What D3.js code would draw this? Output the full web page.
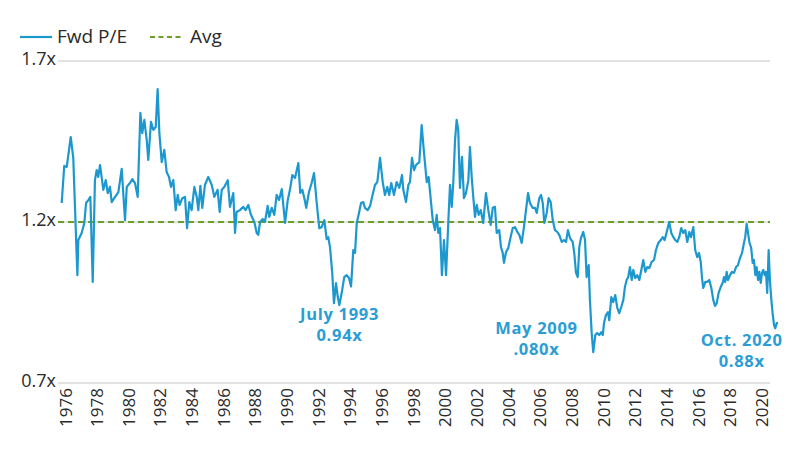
<!DOCTYPE html>
<html>
<head>
<meta charset="utf-8">
<script src="https://cdn.jsdelivr.net/npm/d3@7"></script>
<style>
  body { margin: 0; background: #fff; }
  svg text { font-family: "Open Sans", sans-serif; }
</style>
</head>
<body>
<svg id="chart"></svg>
<script>
// forward P/E (decimal year, ratio)
var dates = [1975.76,1975.92,1976.08,1976.33,1976.49,1976.75,1976.81,1977.02,1977.19,1977.30,1977.44,1977.57,1977.72,1977.86,1977.97,
  1978.07,1978.18,1978.39,1978.54,1978.67,1978.81,1978.92,1979.08,1979.34,1979.55,1979.76,1979.87,1980.07,1980.22,1980.39,1980.56,
  1980.73,1980.85,1980.98,1981.13,1981.23,1981.40,1981.55,1981.70,1981.82,1981.93,1982.08,1982.24,1982.39,1982.54,1982.66,1982.81,
  1982.96,1983.09,1983.21,1983.38,1983.55,1983.68,1983.82,1983.97,1984.14,1984.29,1984.39,1984.52,1984.64,1984.81,1985.02,1985.24,
  1985.40,1985.61,1985.74,1985.87,1986.03,1986.25,1986.39,1986.60,1986.71,1986.81,1987.02,1987.23,1987.38,1987.55,1987.72,1987.93,
  1988.08,1988.18,1988.29,1988.46,1988.60,1988.77,1988.87,1989.03,1989.19,1989.34,1989.49,1989.66,1989.87,1990.04,1990.18,1990.33,
  1990.50,1990.71,1990.83,1990.96,1991.09,1991.21,1991.38,1991.55,1991.70,1991.87,1992.03,1992.18,1992.35,1992.50,1992.60,1992.71,
  1992.85,1992.96,1993.09,1993.20,1993.30,1993.45,1993.61,1993.76,1993.91,1994.04,1994.18,1994.29,1994.40,1994.54,1994.67,1994.81,
  1994.92,1995.09,1995.24,1995.38,1995.55,1995.70,1995.87,1996.04,1996.18,1996.33,1996.45,1996.58,1996.75,1996.92,1997.09,1997.26,
  1997.34,1997.51,1997.66,1997.76,1997.89,1998.02,1998.14,1998.35,1998.50,1998.65,1998.82,1998.94,1999.09,1999.20,1999.34,1999.45,
  1999.55,1999.66,1999.78,1999.91,2000.04,2000.18,2000.29,2000.40,2000.50,2000.61,2000.71,2000.81,2000.92,2001.05,2001.17,2001.30,
  2001.45,2001.55,2001.66,2001.76,2001.87,2001.98,2002.10,2002.23,2002.39,2002.56,2002.71,2002.86,2002.99,2003.13,2003.24,2003.40,
  2003.51,2003.62,2003.70,2003.83,2003.97,2004.08,2004.25,2004.40,2004.54,2004.67,2004.82,2004.96,2005.09,2005.22,2005.34,2005.51,
  2005.66,2005.77,2005.93,2006.04,2006.15,2006.25,2006.40,2006.52,2006.65,2006.78,2006.92,2007.07,2007.19,2007.35,2007.49,2007.62,
  2007.74,2007.87,2008.04,2008.14,2008.25,2008.36,2008.46,2008.56,2008.71,2008.82,2008.92,2009.05,2009.13,2009.24,2009.34,2009.47,
  2009.59,2009.72,2009.85,2009.94,2010.02,2010.14,2010.27,2010.35,2010.48,2010.60,2010.73,2010.86,2010.98,2011.11,2011.24,2011.34,
  2011.45,2011.55,2011.66,2011.77,2011.87,2011.99,2012.12,2012.25,2012.40,2012.50,2012.63,2012.75,2012.88,2013.03,2013.18,2013.30,
  2013.45,2013.60,2013.73,2013.85,2013.98,2014.14,2014.27,2014.40,2014.52,2014.65,2014.77,2014.90,2015.03,2015.15,2015.28,2015.41,
  2015.51,2015.66,2015.78,2015.91,2016.02,2016.13,2016.21,2016.29,2016.42,2016.54,2016.67,2016.80,2016.92,2017.03,2017.14,2017.26,
  2017.39,2017.52,2017.60,2017.68,2017.77,2017.85,2017.98,2018.10,2018.23,2018.36,2018.48,2018.61,2018.74,2018.86,2018.94,2019.03,
  2019.11,2019.20,2019.32,2019.41,2019.49,2019.58,2019.66,2019.75,2019.83,2019.92,2020.00,2020.08,2020.17,2020.25,2020.33,2020.42,
  2020.50,2020.59,2020.67,2020.76,2020.84,2020.93,2021.01];

var fwdPE = [1.259,1.374,1.371,1.464,1.400,1.035,1.144,1.166,1.197,1.259,1.268,1.278,1.014,1.330,1.361,
  1.340,1.377,1.300,1.330,1.290,1.309,1.262,1.274,1.293,1.365,1.206,1.309,1.321,1.333,1.321,1.278,
  1.539,1.476,1.517,1.455,1.393,1.511,1.486,1.495,1.613,1.476,1.386,1.424,1.355,1.340,1.309,1.330,
  1.237,1.284,1.253,1.274,1.278,1.181,1.262,1.237,1.309,1.278,1.237,1.312,1.244,1.315,1.340,1.315,
  1.278,1.300,1.231,1.300,1.309,1.330,1.247,1.290,1.166,1.231,1.237,1.247,1.237,1.253,1.222,1.200,
  1.166,1.160,1.200,1.209,1.200,1.250,1.216,1.244,1.222,1.284,1.268,1.302,1.197,1.268,1.300,1.346,
  1.337,1.383,1.290,1.300,1.274,1.244,1.293,1.321,1.352,1.259,1.181,1.184,1.206,1.147,1.153,1.122,
  1.042,0.948,1.010,0.967,0.942,0.980,1.029,1.035,1.026,1.000,1.113,1.104,1.197,1.228,1.259,1.262,
  1.244,1.237,1.250,1.280,1.315,1.324,1.399,1.324,1.284,1.309,1.284,1.321,1.284,1.324,1.306,1.346,
  1.300,1.262,1.315,1.324,1.399,1.361,1.377,1.386,1.501,1.414,1.324,1.340,1.262,1.206,1.175,1.222,
  1.166,1.181,1.035,1.144,1.035,1.197,1.315,1.247,1.324,1.455,1.517,1.486,1.306,1.402,1.274,1.290,
  1.330,1.433,1.340,1.278,1.216,1.253,1.222,1.237,1.197,1.290,1.237,1.191,1.244,1.247,1.166,1.175,
  1.122,1.104,1.073,1.107,1.119,1.144,1.181,1.184,1.169,1.160,1.135,1.184,1.237,1.290,1.259,1.244,
  1.244,1.228,1.274,1.284,1.259,1.197,1.228,1.274,1.262,1.206,1.175,1.169,1.160,1.138,1.144,1.138,
  1.175,1.150,1.138,1.104,1.042,1.029,1.122,1.150,1.169,1.144,1.029,1.066,0.958,0.855,0.796,0.849,
  0.855,0.849,0.858,0.849,0.886,0.911,0.920,0.895,0.967,0.951,0.973,0.933,0.917,0.936,0.958,0.998,
  1.020,1.029,1.060,1.020,1.051,1.026,1.035,1.020,1.057,1.082,1.045,1.060,1.057,1.076,1.082,1.113,
  1.135,1.144,1.153,1.144,1.169,1.200,1.166,1.153,1.144,1.138,1.153,1.181,1.166,1.175,1.138,1.169,
  1.153,1.184,1.113,1.091,1.104,1.076,1.026,0.995,1.014,1.014,1.020,0.995,0.958,0.939,0.948,0.980,
  0.998,1.011,1.029,1.014,1.045,1.020,1.035,1.045,1.042,1.060,1.066,1.088,1.104,1.135,1.153,1.194,
  1.169,1.138,1.119,1.073,1.082,1.035,1.060,1.020,1.045,1.011,1.042,1.051,1.035,1.045,0.980,1.113,
  1.020,0.958,0.917,0.880,0.870,0.886,0.886];

var avgPE = 1.2;
var yTicks = [0.7, 1.2, 1.7];
var xTickYears = [1976,1978,1980,1982,1984,1986,1988,1990,1992,1994,1996,1998,2000,2002,2004,2006,2008,2010,2012,2014,2016,2018,2020];

var noteDates = [1993.5, 2009.35, 2020.8];
var noteVals = [0.94, 0.80, 0.88];
var noteTitles = ["July 1993", "May 2009", "Oct. 2020"];
var noteLabels = ["0.94x", ".080x", "0.88x"];

var W = 800, H = 449;
var blue = "#1d98cf", green = "#6a9e2b", ink = "#2a2a2a";

var svg = d3.select('#chart').attr('width', W).attr('height', H);

var x = d3.scaleLinear().domain([1976, 2020]).range([65.5, 762]);
var y = d3.scaleLinear().domain([0.7, 1.7]).range([383, 61]);

// gridlines + y labels
svg.selectAll('line.grid').data(yTicks).enter().append('line')
  .attr('class', 'grid')
  .attr('x1', 58).attr('x2', 770)
  .attr('y1', function(d){ return y(d); })
  .attr('y2', function(d){ return y(d); })
  .attr('stroke', '#d9d9d9').attr('stroke-width', 1.5);

svg.selectAll('text.ylab').data(yTicks).enter().append('text')
  .attr('class', 'ylab')
  .attr('x', 56)
  .attr('y', function(d){ return y(d) + 4; })
  .attr('text-anchor', 'end')
  .attr('font-size', 18)
  .attr('fill', ink)
  .text(function(d){ return d3.format('.1f')(d) + 'x'; });

// average line
svg.append('line')
  .attr('x1', 58).attr('x2', 770)
  .attr('y1', y(avgPE)).attr('y2', y(avgPE))
  .attr('stroke', green).attr('stroke-width', 2)
  .attr('stroke-dasharray', '6,4');

// x labels, rotated
svg.selectAll('text.xlab').data(xTickYears).enter().append('text')
  .attr('class', 'xlab')
  .attr('transform', function(d){ return 'translate(' + (x(d) + 6) + ',388) rotate(-90)'; })
  .attr('text-anchor', 'end')
  .attr('font-size', 17)
  .attr('fill', ink)
  .text(function(d){ return d; });

// the series
var pts = dates.map(function(d, i){ return [d, fwdPE[i]]; });
var line = d3.line()
  .x(function(d){ return x(d[0]); })
  .y(function(d){ return y(d[1]); });

svg.append('path')
  .datum(pts)
  .attr('d', line)
  .attr('fill', 'none')
  .attr('stroke', blue)
  .attr('stroke-width', 2.2)
  .attr('stroke-linejoin', 'round');

// annotations: two separate texts per note
var noteDx = [-3, -57, -33];
var noteDy = [14, -17, 21];
noteDates.forEach(function(d, i){
  var cx = x(d) + noteDx[i], cy = y(noteVals[i]) + noteDy[i];
  [noteTitles[i], noteLabels[i]].forEach(function(s, k){
    svg.append('text')
      .attr('x', cx).attr('y', cy + k * 21)
      .attr('text-anchor', 'middle')
      .attr('font-size', 16.5)
      .attr('font-weight', 700)
      .attr('letter-spacing', 0.7)
      .attr('fill', '#2a9dd4')
      .text(s);
  });
});

// legend
var lg = svg.append('g');
lg.append('line').attr('x1', 20).attr('x2', 52).attr('y1', 37).attr('y2', 37)
  .attr('stroke', blue).attr('stroke-width', 2.2);
lg.append('text').attr('x', 57).attr('y', 43).attr('font-size', 19).attr('fill', ink).text('Fwd P/E');
lg.append('line').attr('x1', 150).attr('x2', 184).attr('y1', 37).attr('y2', 37)
  .attr('stroke', green).attr('stroke-width', 2).attr('stroke-dasharray', '5,3.5');
lg.append('text').attr('x', 190).attr('y', 43).attr('font-size', 19).attr('fill', ink).text('Avg');
</script>
</body>
</html>
